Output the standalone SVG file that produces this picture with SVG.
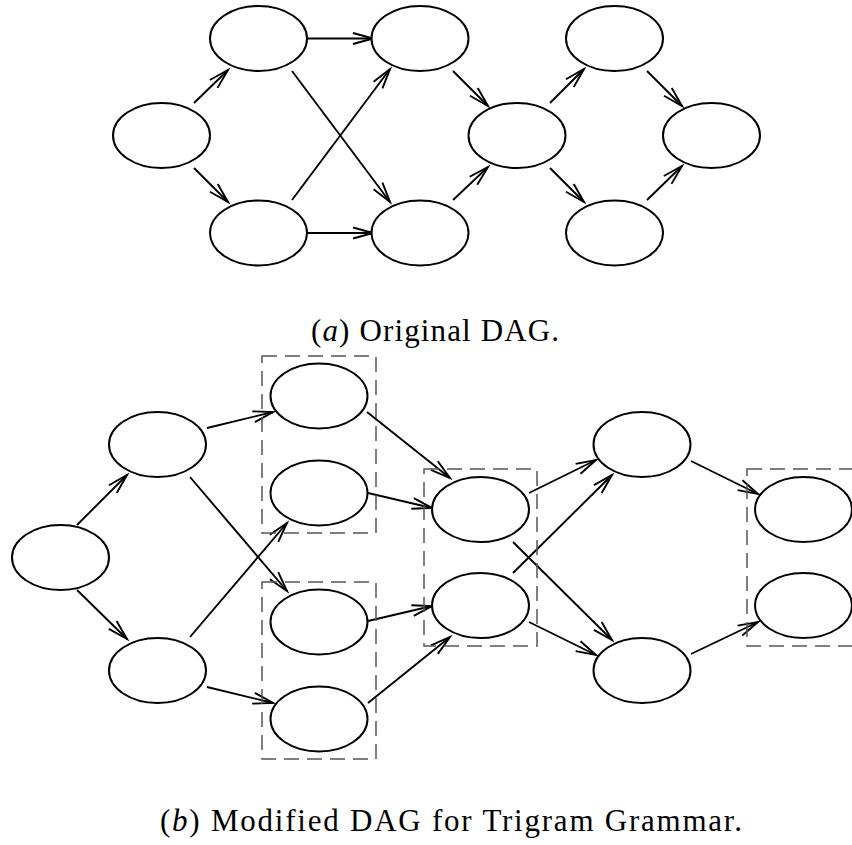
<svg xmlns="http://www.w3.org/2000/svg" width="852" height="845" viewBox="0 0 852 845">
<style>
.n{fill:#fff;stroke:#000;stroke-width:2}
.e{stroke:#000;stroke-width:1.9;fill:none;marker-end:url(#ah)}
.g{fill:none;stroke:#555;stroke-width:1.5;stroke-dasharray:15 8}
.cap{font-family:"Liberation Serif","DejaVu Serif",serif;font-size:31px;fill:#000}
</style>
<defs>
<marker id="ah" markerUnits="userSpaceOnUse" markerWidth="24" markerHeight="14" refX="21" refY="6" orient="auto" viewBox="0 0 24 12">
<path d="M1,0.5 L21,6 L1,11.5" fill="none" stroke="#000" stroke-width="1.9"/>
</marker>
</defs>
<rect width="852" height="845" fill="#fff"/>
<g id="connectors">
<line class="e" x1="194" y1="103" x2="228" y2="70"/>
<line class="e" x1="194" y1="168" x2="228" y2="202"/>
<line class="e" x1="307" y1="38.5" x2="373" y2="38.5"/>
<line class="e" x1="292" y1="71" x2="390" y2="202"/>
<line class="e" x1="292" y1="200" x2="390" y2="69"/>
<line class="e" x1="307" y1="233" x2="373" y2="233"/>
<line class="e" x1="453" y1="71" x2="488" y2="106"/>
<line class="e" x1="453" y1="200" x2="488" y2="167"/>
<line class="e" x1="550" y1="103" x2="584" y2="69"/>
<line class="e" x1="550" y1="168" x2="584" y2="202"/>
<line class="e" x1="647" y1="71" x2="682" y2="106"/>
<line class="e" x1="647" y1="200" x2="682" y2="166"/>
<line class="e" x1="77" y1="525" x2="127" y2="475"/>
<line class="e" x1="77" y1="590" x2="127" y2="639"/>
<line class="e" x1="207" y1="428" x2="273" y2="412"/>
<line class="e" x1="190" y1="477" x2="287" y2="591"/>
<line class="e" x1="190" y1="637" x2="287" y2="523"/>
<line class="e" x1="207" y1="687" x2="273" y2="703"/>
<line class="e" x1="367" y1="412" x2="450" y2="478"/>
<line class="e" x1="368" y1="493" x2="432" y2="508"/>
<line class="e" x1="368" y1="621" x2="432" y2="606"/>
<line class="e" x1="368" y1="703" x2="450" y2="637"/>
<line class="e" x1="529" y1="493" x2="596" y2="460"/>
<line class="e" x1="513" y1="542" x2="612" y2="640"/>
<line class="e" x1="513" y1="573" x2="612" y2="475"/>
<line class="e" x1="529" y1="622" x2="596" y2="655"/>
<line class="e" x1="691" y1="461" x2="758" y2="494"/>
<line class="e" x1="691" y1="654" x2="758" y2="622"/>
</g>
<g id="groups">
<rect class="g" x="262" y="356" width="114" height="177"/>
<rect class="g" x="262" y="582" width="114" height="177"/>
<rect class="g" x="424" y="469" width="113" height="177"/>
<rect class="g" x="747" y="469" width="114" height="177"/>
</g>
<g id="a1"><ellipse class="n" cx="161.5" cy="135.5" rx="48.5" ry="32.5"/></g>
<g id="a2"><ellipse class="n" cx="258.5" cy="38.5" rx="48.5" ry="32.5"/></g>
<g id="a3"><ellipse class="n" cx="258.5" cy="233" rx="48.5" ry="32.5"/></g>
<g id="a4"><ellipse class="n" cx="420" cy="38.5" rx="48.5" ry="32.5"/></g>
<g id="a5"><ellipse class="n" cx="420" cy="233" rx="48.5" ry="32.5"/></g>
<g id="a6"><ellipse class="n" cx="517" cy="135.5" rx="48.5" ry="32.5"/></g>
<g id="a7"><ellipse class="n" cx="614.5" cy="38.5" rx="48.5" ry="32.5"/></g>
<g id="a8"><ellipse class="n" cx="614.5" cy="233" rx="48.5" ry="32.5"/></g>
<g id="a9"><ellipse class="n" cx="711.5" cy="135.5" rx="48.5" ry="32.5"/></g>
<g id="b1"><ellipse class="n" cx="60.5" cy="557.5" rx="48.5" ry="32.5"/></g>
<g id="b2"><ellipse class="n" cx="157.5" cy="444.5" rx="48.5" ry="32.5"/></g>
<g id="b3"><ellipse class="n" cx="157.5" cy="670.5" rx="48.5" ry="32.5"/></g>
<g id="b4"><ellipse class="n" cx="319" cy="396" rx="48.5" ry="32.5"/></g>
<g id="b5"><ellipse class="n" cx="319" cy="493" rx="48.5" ry="32.5"/></g>
<g id="b6"><ellipse class="n" cx="319" cy="622" rx="48.5" ry="32.5"/></g>
<g id="b7"><ellipse class="n" cx="319" cy="719" rx="48.5" ry="32.5"/></g>
<g id="b8"><ellipse class="n" cx="480.5" cy="509.5" rx="48.5" ry="32.5"/></g>
<g id="b9"><ellipse class="n" cx="480.5" cy="605.5" rx="48.5" ry="32.5"/></g>
<g id="b10"><ellipse class="n" cx="642" cy="444.5" rx="48.5" ry="32.5"/></g>
<g id="b11"><ellipse class="n" cx="642" cy="670.5" rx="48.5" ry="32.5"/></g>
<g id="b12"><ellipse class="n" cx="803.5" cy="509.5" rx="48.5" ry="32.5"/></g>
<g id="b13"><ellipse class="n" cx="803.5" cy="605.5" rx="48.5" ry="32.5"/></g>
<text class="cap" x="311" y="341" textLength="248">(<tspan font-style="italic">a</tspan>) Original DAG.</text>
<text class="cap" x="160" y="831" textLength="582">(<tspan font-style="italic">b</tspan>) Modified DAG for Trigram Grammar.</text>
</svg>
